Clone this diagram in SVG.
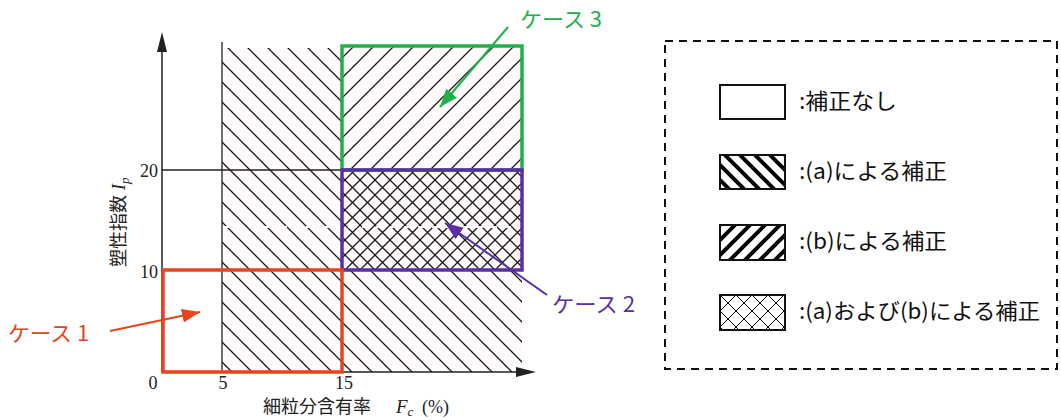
<svg xmlns="http://www.w3.org/2000/svg" width="1061" height="420" viewBox="0 0 1061 420">
<style>
.ax{stroke:#222;stroke-width:1.5;fill:none}
.thin{stroke:#222;stroke-width:1.3;fill:none}
.num{font-family:"Liberation Serif",serif;font-size:18px;fill:#222}
.ttl{font-family:"Liberation Serif","Noto Sans CJK JP",serif;font-size:18px;fill:#222}
.leg{font-family:"Noto Sans CJK JP","Noto Sans",sans-serif;font-size:21.5px;fill:#111}
.case{font-family:"Noto Sans CJK JP","Noto Sans",sans-serif;font-size:21px}
.lbox{fill:#fff;stroke:#111;stroke-width:2}
</style>
<defs>
<pattern id="hb" patternUnits="userSpaceOnUse" width="20" height="20">
<path d="M-5,-5 L25,25 M-5,15 L5,25 M15,-5 L25,5" stroke="#1a1a1a" stroke-width="1.3"/>
</pattern>
<pattern id="hf" patternUnits="userSpaceOnUse" width="20" height="20">
<path d="M-5,25 L25,-5 M-5,5 L5,-5 M15,25 L25,15" stroke="#1a1a1a" stroke-width="1.3"/>
</pattern>
<pattern id="hx" patternUnits="userSpaceOnUse" width="15" height="15">
<path d="M-5,-5 L20,20 M-5,10 L5,20 M10,-5 L20,5 M-5,20 L20,-5 M-5,5 L5,-5 M10,20 L20,10" stroke="#1a1a1a" stroke-width="1.3"/>
</pattern>
<pattern id="lb" patternUnits="userSpaceOnUse" width="15" height="15">
<path d="M-5,-5 L20,20 M-5,10 L5,20 M10,-5 L20,5" stroke="#000" stroke-width="4"/>
</pattern>
<pattern id="lf" patternUnits="userSpaceOnUse" width="15" height="15">
<path d="M-5,20 L20,-5 M-5,5 L5,-5 M10,20 L20,10" stroke="#000" stroke-width="4"/>
</pattern>
<pattern id="lx" patternUnits="userSpaceOnUse" width="16" height="16" x="720" y="295">
<path d="M-5,-5 L21,21 M-5,11 L5,21 M11,-5 L21,5 M-5,21 L21,-5 M-5,5 L5,-5 M11,21 L21,11" stroke="#000" stroke-width="1"/>
</pattern>
<marker id="mo" markerUnits="userSpaceOnUse" markerWidth="18" markerHeight="14" refX="18" refY="7" orient="auto"><path d="M0,0 L18,7 L0,14 z" fill="#e8441c"/></marker>
<marker id="mg" markerUnits="userSpaceOnUse" markerWidth="18" markerHeight="14" refX="18" refY="7" orient="auto"><path d="M0,0 L18,7 L0,14 z" fill="#20b04a"/></marker>
<marker id="mp" markerUnits="userSpaceOnUse" markerWidth="18" markerHeight="14" refX="18" refY="7" orient="auto"><path d="M0,0 L18,7 L0,14 z" fill="#5a2ea6"/></marker>
</defs>

<g id="chart">
<rect x="222" y="48" width="300" height="324" fill="#fefbfa"/>
<rect x="222" y="48" width="120" height="324" fill="url(#hb)"/>
<rect x="342" y="270" width="180" height="102" fill="url(#hb)"/>
<rect x="342" y="46" width="180" height="124" fill="url(#hf)"/>
<rect x="342" y="170" width="180" height="100" fill="url(#hx)"/>
<line x1="222" y1="227" x2="522" y2="227" stroke="#fff" stroke-width="2" stroke-dasharray="9 5"/>
<line class="thin" x1="222" y1="42" x2="222" y2="372"/>
<line class="thin" x1="162" y1="170" x2="342" y2="170"/>
<line class="ax" x1="162" y1="372" x2="162" y2="50"/>
<path d="M162,32 L157,52 L167,52 z" fill="#222"/>
<line class="ax" x1="162" y1="372" x2="520" y2="372"/>
<path d="M536,372 L516,367 L516,377 z" fill="#222"/>
<text class="num" x="153" y="389" text-anchor="middle">0</text>
<text class="num" x="223" y="389" text-anchor="middle">5</text>
<text class="num" x="344" y="389" text-anchor="middle">15</text>
<text class="num" x="158" y="177" text-anchor="end">20</text>
<text class="num" x="158" y="278" text-anchor="end">10</text>
<text class="ttl" x="263" y="413">細粒分含有率<tspan x="396" font-style="italic" font-size="19">F</tspan><tspan font-style="italic" font-size="13" dy="3">c</tspan><tspan x="422" dy="-3">(%)</tspan></text>
<text class="ttl" transform="translate(125,267) rotate(-90)" font-size="19.5">塑性指数<tspan dx="5" font-style="italic">I</tspan><tspan font-style="italic" font-size="13" dy="4">p</tspan></text>
</g>

<g id="case3-box"><rect x="342" y="46" width="180" height="124" fill="none" stroke="#20b04a" stroke-width="3.5"/></g>
<g id="case2-box"><rect x="342" y="170" width="180" height="100" fill="none" stroke="#5a2ea6" stroke-width="3.5"/></g>
<g id="case1-box"><rect x="163" y="270" width="179" height="102" fill="none" stroke="#e8441c" stroke-width="3.5"/></g>

<g id="case1"><text class="case" x="8" y="341" fill="#e8441c" textLength="81" lengthAdjust="spacingAndGlyphs">ケース 1</text></g>
<g id="case3"><text class="case" x="520" y="27" fill="#20b04a" textLength="82" lengthAdjust="spacingAndGlyphs">ケース 3</text></g>
<g id="case2"><text class="case" x="552" y="312" fill="#5a2ea6" textLength="83" lengthAdjust="spacingAndGlyphs">ケース 2</text></g>

<g id="connectors">
<line x1="110" y1="331" x2="200" y2="312" stroke="#e8441c" stroke-width="2" marker-end="url(#mo)"/>
<line x1="508" y1="27" x2="440" y2="107" stroke="#20b04a" stroke-width="2" marker-end="url(#mg)"/>
<line x1="547" y1="295" x2="445" y2="223" stroke="#5a2ea6" stroke-width="2" marker-end="url(#mp)"/>
</g>

<g id="legend">
<rect x="665" y="41" width="392" height="328" fill="none" stroke="#111" stroke-width="2" stroke-dasharray="8 6"/>
<g id="leg-none"><rect class="lbox" x="720" y="85" width="65" height="34"/><text class="leg" x="799" y="109" textLength="98" lengthAdjust="spacingAndGlyphs">:補正なし</text></g>
<g id="leg-a"><rect x="720" y="155" width="65" height="34" fill="url(#lb)" stroke="#111" stroke-width="2"/><text class="leg" x="799" y="179" textLength="148" lengthAdjust="spacingAndGlyphs">:(a)による補正</text></g>
<g id="leg-b"><rect x="720" y="225" width="65" height="35" fill="url(#lf)" stroke="#111" stroke-width="2"/><text class="leg" x="799" y="249" textLength="148" lengthAdjust="spacingAndGlyphs">:(b)による補正</text></g>
<g id="leg-ab"><rect x="720" y="295" width="65" height="35" fill="url(#lx)" stroke="#111" stroke-width="2"/><text class="leg" x="799" y="319" textLength="241" lengthAdjust="spacingAndGlyphs">:(a)および(b)による補正</text></g>
</g>
</svg>
